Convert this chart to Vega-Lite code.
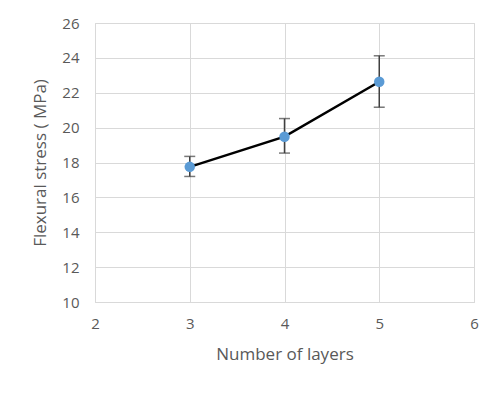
{
  "$schema": "https://vega.github.io/schema/vega-lite/v6.json",
  "autosize": {"type": "none"},
  "width": 379,
  "height": 279,
  "padding": {"left": 95, "top": 23, "right": 28, "bottom": 94},
  "background": "white",
  "config": {
    "view": {"stroke": "#d9d9d9"},
    "axis": {
      "labelFont": "Open Sans", "titleFont": "Open Sans",
      "labelColor": "#595959", "titleColor": "#595959",
      "labelFontSize": 15, "titleFontSize": 17, "titleFontWeight": "normal",
      "gridColor": "#d9d9d9", "domainColor": "#d9d9d9", "ticks": false, "labelOverlap": false, "labelFlush": false
    }
  },
  "data": {"values": [
    {"layers": 3, "stress": 17.75, "lo": 17.2, "hi": 18.35},
    {"layers": 4, "stress": 19.48, "lo": 18.54, "hi": 20.52},
    {"layers": 5, "stress": 22.63, "lo": 21.17, "hi": 24.12}
  ]},
  "encoding": {
    "x": {"field": "layers", "type": "quantitative", "scale": {"domain": [2, 6], "nice": false},
      "axis": {"title": "Number of layers", "values": [2,3,4,5,6], "labelPadding": 14, "titlePadding": 15, "domain": true}},
    "y": {"field": "stress", "type": "quantitative", "scale": {"domain": [10, 26], "nice": false, "zero": false},
      "axis": {"title": "Flexural stress ( MPa)", "values": [10,12,14,16,18,20,22,24,26], "labelPadding": 16, "titlePadding": 12, "domain": false}}
  },
  "layer": [
    {"mark": {"type": "rule", "color": "#404040", "strokeWidth": 1.5},
      "encoding": {"y": {"field": "lo", "type": "quantitative"}, "y2": {"field": "hi"}}},
    {"mark": {"type": "tick", "color": "#404040", "orient": "horizontal", "size": 11, "thickness": 1.5},
      "encoding": {"y": {"field": "lo", "type": "quantitative"}}},
    {"mark": {"type": "tick", "color": "#404040", "orient": "horizontal", "size": 11, "thickness": 1.5},
      "encoding": {"y": {"field": "hi", "type": "quantitative"}}},
    {"mark": {"type": "line", "color": "black", "strokeWidth": 2.5}},
    {"mark": {"type": "point", "filled": true, "opacity": 1, "color": "#5b9bd5", "size": 110}}
  ]
}
